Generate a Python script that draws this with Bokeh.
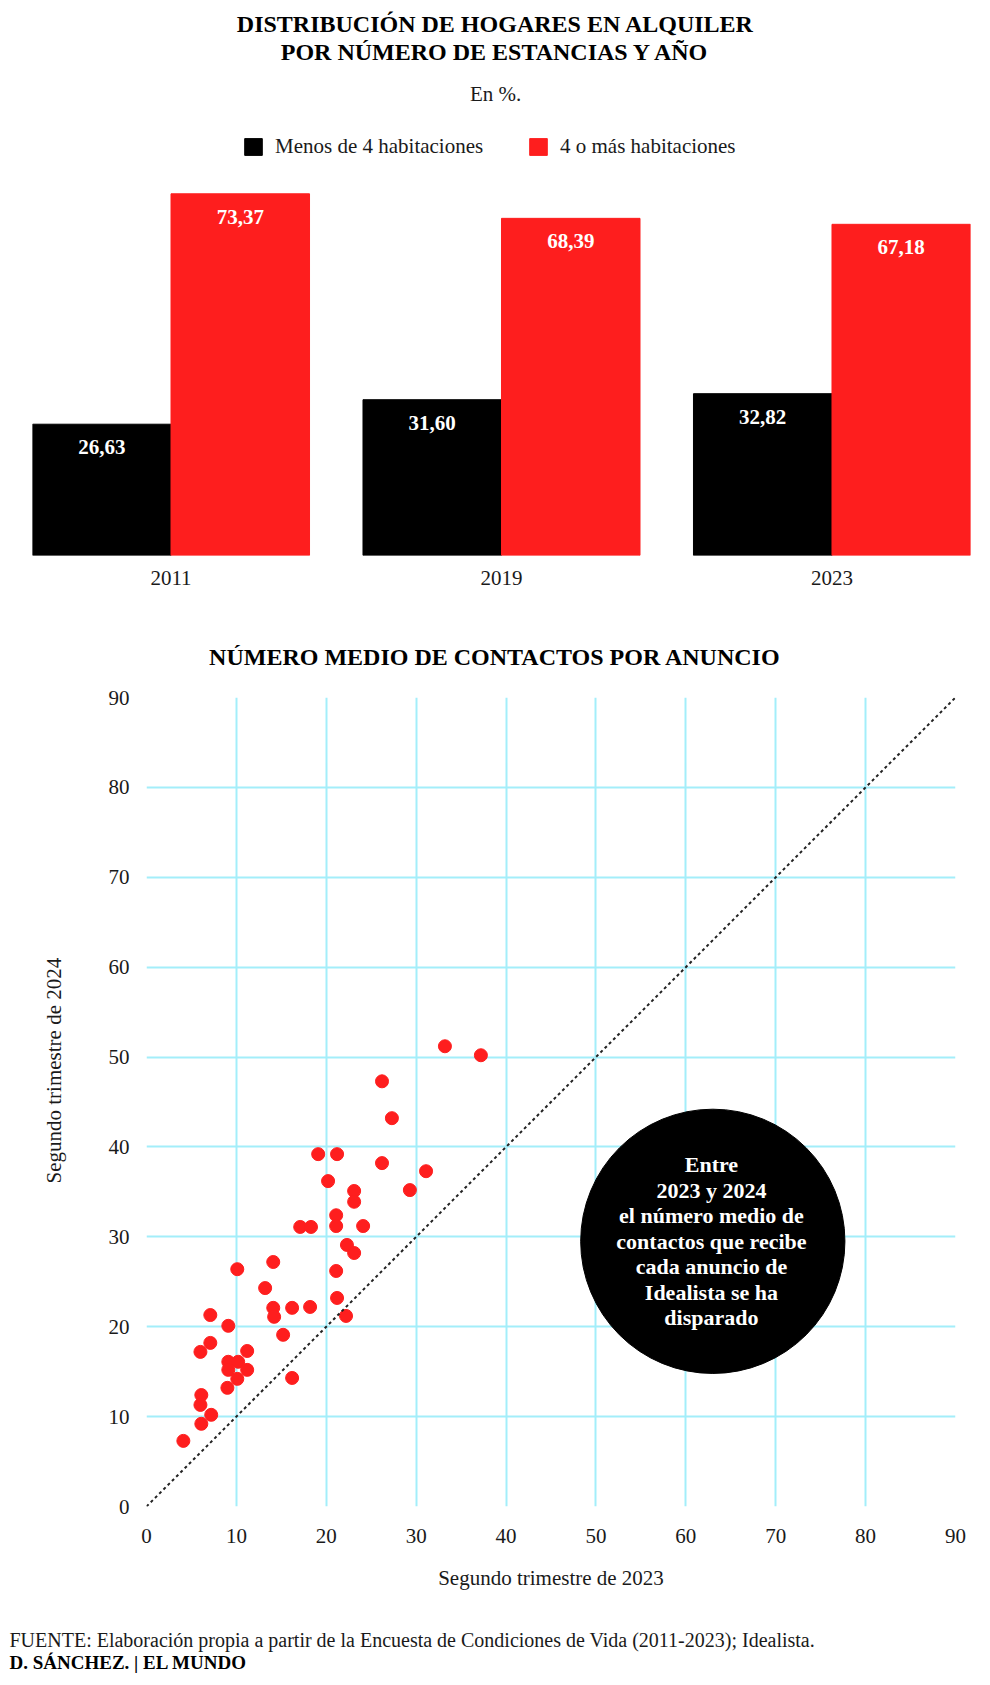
from bokeh.plotting import figure
from bokeh.models import (ColumnDataSource, FactorRange, Range1d, Label, Legend,
                          LegendItem, FixedTicker, Slope, Title)
from bokeh.core.properties import value
from bokeh.transform import dodge
from bokeh.embed import file_html
from bokeh.resources import INLINE

# ---------------- data ----------------
years = ["2011", "2019", "2023"]
menos_4 = [26.63, 31.60, 32.82]
cuatro_o_mas = [73.37, 68.39, 67.18]

x_2023 = [33.2, 37.2, 26.2, 27.3, 19.1, 21.2, 26.2, 31.1, 20.2, 23.1, 23.1, 29.3,
          21.1, 21.1, 17.1, 18.3, 24.1, 22.3, 23.1, 10.1, 14.1, 21.1, 13.2, 21.2,
          7.1, 9.1, 7.1, 6.0, 11.2, 9.1, 10.2, 9.1, 11.2, 10.1, 9.0, 16.2, 6.1,
          6.0, 7.2, 6.1, 4.1, 14.1, 14.2, 16.2, 18.2, 15.2, 22.2]
y_2024 = [51.2, 50.2, 47.3, 43.2, 39.2, 39.2, 38.2, 37.3, 36.2, 35.1, 33.9, 35.2,
          32.4, 31.2, 31.1, 31.1, 31.2, 29.1, 28.2, 26.4, 27.2, 26.2, 24.3, 23.2,
          21.3, 20.1, 18.2, 17.2, 17.3, 16.1, 16.1, 15.2, 15.2, 14.2, 13.2, 14.3,
          12.4, 11.3, 10.2, 9.2, 7.3, 22.1, 21.1, 22.1, 22.2, 19.1, 21.2]
axis_ticks = [0, 10, 20, 30, 40, 50, 60, 70, 80, 90]

FONT = "Liberation Serif"
RED = "#fe1e1e"
GRID = "#a3eefa"
TXT = "#1a1a1a"
W = 990


def text_panel(height):
    """A figure whose frame is the whole canvas, used only for free text."""
    p = figure(width=W, height=height, x_range=Range1d(0, W), y_range=Range1d(height, 0),
               output_backend="svg", toolbar_location=None, min_border=0,
               x_axis_type=None, y_axis_type=None)
    p.outline_line_color = None
    return p


# ---------------- bar chart ----------------
p1 = figure(width=W, height=608,
            x_range=FactorRange(factors=years, factor_padding=0.193),
            y_range=Range1d(0, 112.58),
            output_backend="svg", toolbar_location=None,
            min_border_left=32, min_border_right=20,
            min_border_top=0, min_border_bottom=53)
p1.outline_line_color = None
p1.xgrid.visible = False
p1.ygrid.visible = False
p1.yaxis.visible = False
p1.xaxis.axis_line_color = None
p1.xaxis.major_tick_line_color = None
p1.xaxis.minor_tick_line_color = None
p1.xaxis.major_label_text_font = FONT
p1.xaxis.major_label_text_font_size = "21px"
p1.xaxis.major_label_text_color = TXT
p1.xaxis.major_label_standoff = 9

src1 = ColumnDataSource(dict(
    year=years, menos=menos_4, mas=cuatro_o_mas,
    menos_lbl=[f"{v:.2f}".replace(".", ",") for v in menos_4],
    mas_lbl=[f"{v:.2f}".replace(".", ",") for v in cuatro_o_mas],
))
r_black = p1.vbar(x=dodge("year", -0.25, range=p1.x_range), top="menos", width=0.5,
                  source=src1, fill_color="black", line_color="black")
r_red = p1.vbar(x=dodge("year", 0.25, range=p1.x_range), top="mas", width=0.5,
                source=src1, fill_color=RED, line_color=RED)

for col, lbl, off in [("menos", "menos_lbl", -0.25), ("mas", "mas_lbl", 0.25)]:
    p1.text(x=dodge("year", off, range=p1.x_range), y=col, text=lbl,
            source=src1, y_offset=23, text_align="center", text_baseline="middle",
            text_color="white", text_font=value(FONT),
            text_font_size="21px", text_font_style="bold")

TITLE_X = 1.6715  # synthetic categorical coordinate of the page centre
p1.add_layout(Label(x=TITLE_X, y=107.8, text="DISTRIBUCIÓN DE HOGARES EN ALQUILER",
                    text_align="center", text_baseline="alphabetic", text_font=FONT,
                    text_font_size="24px", text_font_style="bold", text_color="black"))
p1.add_layout(Label(x=TITLE_X, y=102.2, text="POR NÚMERO DE ESTANCIAS Y AÑO",
                    text_align="center", text_baseline="alphabetic", text_font=FONT,
                    text_font_size="24px", text_font_style="bold", text_color="black"))
p1.add_layout(Label(x=TITLE_X, y=93.6, text="En %.",
                    text_align="center", text_baseline="alphabetic", text_font=FONT,
                    text_font_size="21px", text_color=TXT))

for rend, lbl, loc in [(r_black, "Menos de 4 habitaciones", (210, 396)),
                       (r_red, "4 o más habitaciones", (495, 396))]:
    leg = Legend(items=[LegendItem(label=lbl, renderers=[rend])], location=loc,
                 orientation="horizontal", padding=0, margin=0, spacing=0,
                 glyph_width=22, glyph_height=21, label_standoff=11,
                 label_text_font=FONT, label_text_font_size="21px",
                 label_text_color=TXT, border_line_color=None,
                 background_fill_alpha=0)
    p1.add_layout(leg)

# ---------------- scatter title ----------------
pt = text_panel(72)
pt.add_layout(Label(x=494.5, y=48.0, text="NÚMERO MEDIO DE CONTACTOS POR ANUNCIO",
                    text_align="center", text_baseline="alphabetic", text_font=FONT,
                    text_font_size="24px", text_font_style="bold", text_color="black"))

# ---------------- scatter ----------------
p2 = figure(width=W, height=930, x_range=Range1d(0, 90), y_range=Range1d(0, 90),
            output_backend="svg", toolbar_location=None,
            min_border_left=146, min_border_right=35,
            min_border_top=17, min_border_bottom=104)
p2.outline_line_color = None
for ax in (p2.xaxis, p2.yaxis):
    ax.ticker = FixedTicker(ticks=axis_ticks)
    ax.axis_line_color = None
    ax.major_tick_line_color = None
    ax.minor_tick_line_color = None
    ax.major_label_text_font = FONT
    ax.major_label_text_font_size = "21px"
    ax.major_label_text_color = TXT
p2.xaxis.major_label_standoff = 16
p2.yaxis.major_label_standoff = 11
p2.grid.grid_line_color = GRID
p2.grid.grid_line_width = 2

p2.xaxis.axis_label = "Segundo trimestre de 2023"
p2.xaxis.axis_label_text_font = FONT
p2.xaxis.axis_label_text_font_size = "21px"
p2.xaxis.axis_label_text_font_style = "normal"
p2.xaxis.axis_label_text_color = TXT
p2.xaxis.axis_label_standoff = 20

p2.add_layout(Title(text="Segundo trimestre de 2024", align="left", offset=323,
                    vertical_align="middle", standoff=78, text_font=FONT,
                    text_font_size="21px", text_font_style="normal",
                    text_color=TXT), "left")

p2.add_layout(Slope(gradient=1, y_intercept=0, line_color="#222222",
                    line_width=2, line_dash="3 3"))

p2.scatter(x_2023, y_2024, size=13, fill_color=RED, line_color=RED)

BUBBLE_X, BUBBLE_Y, BUBBLE_R = 63.0, 29.5, 14.7
p2.circle(x=[BUBBLE_X], y=[BUBBLE_Y], radius=BUBBLE_R, fill_color="black", line_color="black")
p2.add_layout(Label(x=BUBBLE_X - 0.15, y=BUBBLE_Y,
                    text="Entre\n2023 y 2024\nel número medio de\ncontactos que recibe\ncada anuncio de\nIdealista se ha\ndisparado",
                    text_align="center", text_baseline="middle", text_color="white",
                    text_font=FONT, text_font_size="22px", text_font_style="bold",
                    text_line_height=1.02))

# ---------------- footer ----------------
pf = text_panel(75)
pf.add_layout(Label(x=9, y=29,
                    text="FUENTE: Elaboración propia a partir de la Encuesta de Condiciones de Vida (2011-2023); Idealista.",
                    text_align="left", text_baseline="middle", text_font=FONT,
                    text_font_size="20px", text_color=TXT))
pf.add_layout(Label(x=9, y=52, text="D. SÁNCHEZ. | EL MUNDO",
                    text_align="left", text_baseline="middle", text_font=FONT,
                    text_font_size="19px", text_font_style="bold", text_color="black"))

open("out.html", "w").write(file_html([p1, pt, p2, pf], INLINE))
